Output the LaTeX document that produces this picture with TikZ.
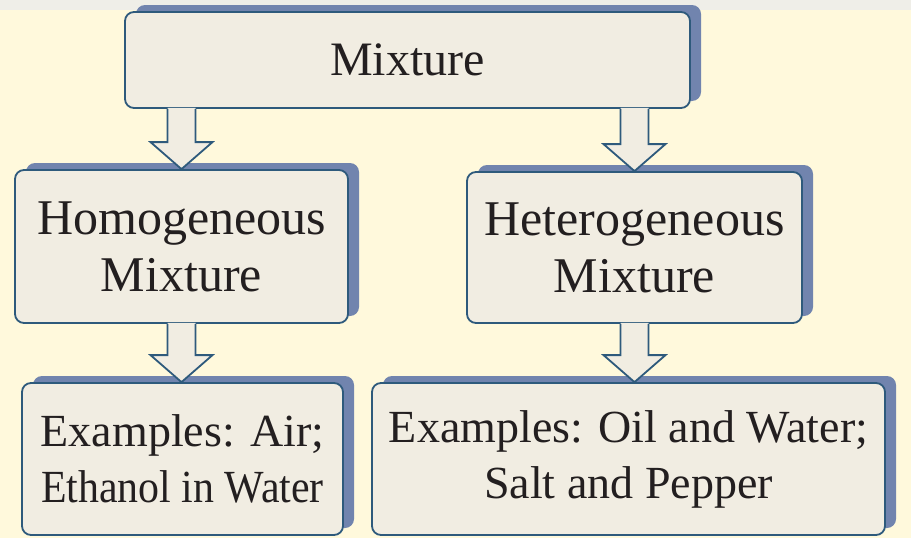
\documentclass[tikz,border=0pt]{standalone}
\usepackage{fontspec}
\setmainfont{Liberation Serif}
\newfontfamily\chartfont{Liberation Serif}
\usepackage{tikz}
\usetikzlibrary{calc, shadows, positioning}

\definecolor{bgcream}{HTML}{FFF9DC}
\definecolor{topgrey}{HTML}{EFEEE8}
\definecolor{boxfill}{HTML}{F1EDE2}
\definecolor{boxline}{HTML}{2E5A7C}
\definecolor{shadowblue}{HTML}{7184AE}
\definecolor{inkdark}{HTML}{231F20}

\tikzset{
  chartbox/.style={draw=boxline, line width=1.8pt, fill=boxfill,
    rounded corners=9pt, align=center, inner sep=0pt, text=inkdark,
    drop shadow={shadow xshift=11pt, shadow yshift=7pt,
      fill=shadowblue, opacity=1}},
  toptext/.style={font=\chartfont\fontsize{48}{55}\selectfont},
  midtext/.style={font=\chartfont\fontsize{50}{57}\selectfont},
  lowtext/.style={font=\chartfont\fontsize{46}{56}\selectfont},
}

% hollow block arrow: #1 = start on parent, #2 = tip on child
\newcommand{\flowarrow}[2]{%
  \fill[shadowblue, xshift=13pt] let \p1=(#1), \p2=(#2) in
    (\x1-14pt,\y1-1pt) -- (\x1-14pt,\y2+27pt) -- (\x1-31pt,\y2+27pt)
    -- (\x2,\y2) -- (\x1+31pt,\y2+27pt) -- (\x1+14pt,\y2+27pt)
    -- (\x1+14pt,\y1-1pt) -- cycle;
  \fill[boxfill] let \p1=(#1), \p2=(#2) in
    (\x1-14pt,\y1+1pt) -- (\x1-14pt,\y2+27pt) -- (\x1-31pt,\y2+27pt)
    -- (\x2,\y2) -- (\x1+31pt,\y2+27pt) -- (\x1+14pt,\y2+27pt)
    -- (\x1+14pt,\y1+1pt) -- cycle;
  \draw[boxline, line width=1.8pt, line join=miter] let \p1=(#1), \p2=(#2) in
    (\x1-14pt,\y1) -- (\x1-14pt,\y2+27pt) -- (\x1-31pt,\y2+27pt)
    -- (\x2,\y2) -- (\x1+31pt,\y2+27pt) -- (\x1+14pt,\y2+27pt)
    -- (\x1+14pt,\y1);
}

\begin{document}
\begin{tikzpicture}[x=1pt, y=-1pt]
  \useasboundingbox (0,0) rectangle (911,538);
  \fill[bgcream] (0,0) rectangle (911,538);
  \fill[topgrey] (0,0) rectangle (911,10);

  % boxes
  \node[chartbox, toptext, minimum width=565pt, minimum height=96pt] (mix) at (407.5,60) {Mixture};
  \node[chartbox, midtext, minimum width=333pt, minimum height=153pt] (homo) at (181.5,246.5) {Homogeneous\\Mixture};
  \node[chartbox, midtext, minimum width=335pt, minimum height=151pt] (hetero) at (634.5,247.5) {Heterogeneous\\Mixture};
  \node[chartbox, lowtext, minimum width=321pt, minimum height=152pt] (exhomo) at (182.5,459) {Examples: Air;\\\scalebox{0.91}[1]{Ethanol in Water}};
  \node[chartbox, lowtext, minimum width=513pt, minimum height=152pt] (exhetero) at (628.5,459) {Examples: Oil and Water;\\Salt and Pepper};

  % arrows
  \flowarrow{homo.north |- mix.south}{homo.north}
  \flowarrow{hetero.north |- mix.south}{hetero.north}
  \flowarrow{homo.south}{exhomo.north -| homo.south}
  \flowarrow{hetero.south}{exhetero.north -| hetero.south}
\end{tikzpicture}
\end{document}
